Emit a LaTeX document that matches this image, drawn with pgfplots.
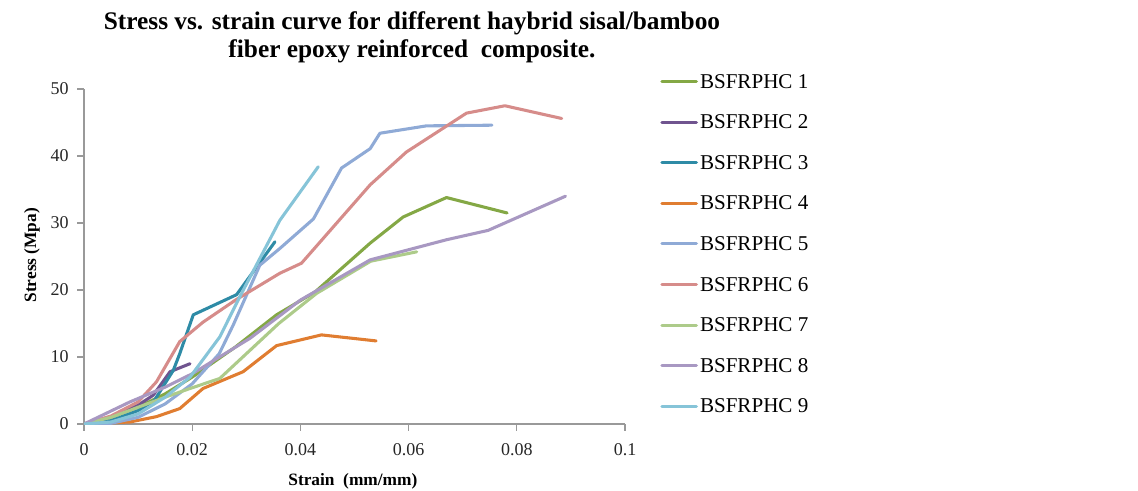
\documentclass[border=0pt]{standalone}
\usepackage{fontspec}
\setmainfont{Liberation Serif}
\usepackage{pgfplots}
\pgfplotsset{compat=1.18}

\definecolor{s1}{HTML}{84A845}
\definecolor{s2}{HTML}{70548F}
\definecolor{s3}{HTML}{2E8BA6}
\definecolor{s4}{HTML}{E07D31}
\definecolor{s5}{HTML}{8FAAD6}
\definecolor{s6}{HTML}{D68C8A}
\definecolor{s7}{HTML}{ADCB8A}
\definecolor{s8}{HTML}{A898C2}
\definecolor{s9}{HTML}{86C4D8}
\definecolor{axgray}{HTML}{999999}

\begin{document}
\begin{tikzpicture}
\useasboundingbox (0pt,0pt) rectangle (853.5pt,367.5pt);
\node[font=\bfseries\fontsize{19}{21}\selectfont, align=center] at (309pt,339.5pt)
  {Stress vs. strain curve for different haybrid sisal/bamboo\\fiber epoxy reinforced\ \ composite.};
\begin{axis}[
  at={(63pt,49.5pt)}, anchor=south west,
  scale only axis,
  width=405.75pt, height=251.25pt,
  xmin=0, xmax=0.1, ymin=0, ymax=50,
  xtick={0,0.02,...,0.1}, ytick={0,10,...,50},
  axis lines=left,
  axis line style={axgray, line width=0.9pt, -},
  tick style={axgray, line width=0.9pt},
  tick align=outside,
  major tick length=5pt,
  scaled x ticks=false,
  /pgf/number format/assume math mode=true,
  xticklabel style={/pgf/number format/fixed, /pgf/number format/precision=2, yshift=-6pt},
  yticklabel style={xshift=-3pt},
  tick label style={font=\fontsize{13.5}{15}\selectfont, text=black!85},
  every axis y label/.style={at={(axis description cs:-0.096,0.504)}, rotate=90, anchor=center},
  every axis x label/.style={at={(axis description cs:0.497,-0.17)}, anchor=center},
  label style={font=\bfseries\fontsize{13}{15}\selectfont},
  xlabel={Strain\ \ (mm/mm)},
  ylabel={Stress (Mpa)},
  legend style={at={(1.0647,1.049)}, anchor=north west, draw=none, fill=none,
    inner sep=0pt, row sep=17.45pt, column sep=0pt,
    font=\fontsize{15.8}{17}\selectfont,
    nodes={text height=10pt, text depth=0pt, inner sep=1.5pt}},
  legend cell align=left,
  legend image code/.code={\draw[#1] (0pt,0pt) -- (26pt,0pt);},
  every axis plot/.append style={line width=2.3pt, line join=round, line cap=round, mark=none},
]
\addplot[s1] coordinates {(0,0) (0.005,1) (0.01,2.5) (0.015,4.5) (0.02,7) (0.028,11.5) (0.0356,16.3) (0.0427,19.7) (0.0529,27) (0.059,30.9) (0.067,33.8) (0.0782,31.5)};
\addplot[s2] coordinates {(0,0) (0.005,1) (0.01,2.8) (0.0128,4.3) (0.0159,7.8) (0.0196,9.0)};
\addplot[s3] coordinates {(0,0) (0.005,0.5) (0.01,2) (0.013,3.5) (0.0165,8) (0.0177,10.5) (0.0202,16.3) (0.0282,19.3) (0.0353,27.2)};
\addplot[s4] coordinates {(0,0) (0.0085,0.3) (0.0134,1.1) (0.0177,2.3) (0.022,5.3) (0.0294,7.8) (0.0356,11.7) (0.0439,13.3) (0.054,12.4)};
\addplot[s5] coordinates {(0,0) (0.005,0.1) (0.01,1) (0.015,3) (0.02,6) (0.025,10.5) (0.0276,14.8) (0.0325,23.7) (0.0362,26.2) (0.0424,30.6) (0.0476,38.2) (0.0529,41.1) (0.0547,43.4) (0.0633,44.5) (0.0754,44.6)};
\addplot[s6] coordinates {(0,0) (0.005,1.2) (0.01,3.3) (0.0134,6.3) (0.0177,12.3) (0.022,15.2) (0.028,18.5) (0.0362,22.5) (0.0402,24) (0.0529,35.7) (0.0596,40.6) (0.0707,46.4) (0.0778,47.5) (0.0883,45.6)};
\addplot[s7] coordinates {(0,0) (0.005,1) (0.01,2.5) (0.015,4) (0.0196,5.3) (0.0251,6.8) (0.036,15) (0.043,19.5) (0.053,24.3) (0.0615,25.7)};
\addplot[s8] coordinates {(0,0) (0.0085,3.3) (0.015,5.5) (0.02,7.5) (0.0307,12.8) (0.04,18.5) (0.0529,24.5) (0.067,27.5) (0.0747,28.9) (0.089,34.0)};
\addplot[s9] coordinates {(0,0) (0.005,0.3) (0.01,1.5) (0.015,4) (0.0196,7) (0.0251,13) (0.0288,19) (0.0362,30.4) (0.0433,38.4)};
\legend{BSFRPHC 1,BSFRPHC 2,BSFRPHC 3,BSFRPHC 4,BSFRPHC 5,BSFRPHC 6,BSFRPHC 7,BSFRPHC 8,BSFRPHC 9}
\end{axis}
\end{tikzpicture}
\end{document}
